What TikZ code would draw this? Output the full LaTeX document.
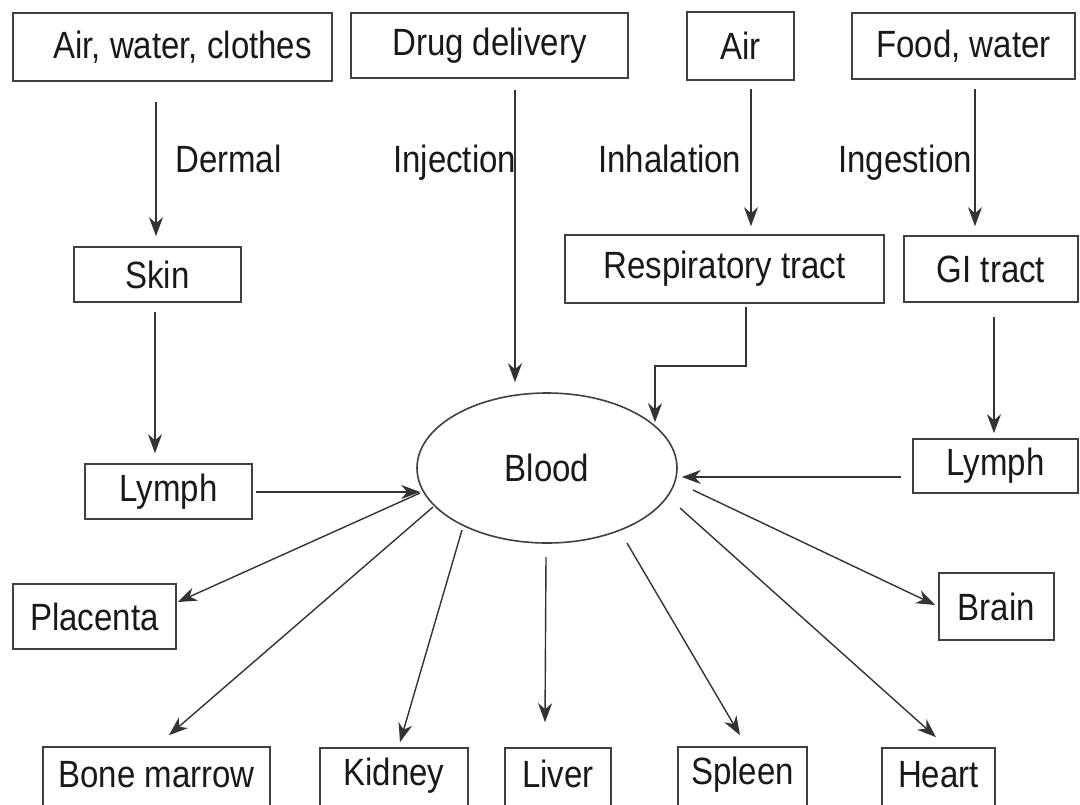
\documentclass[tikz,border=0pt]{standalone}
\usepackage{fontspec}
\setmainfont{Liberation Sans}
\usetikzlibrary{arrows.meta,calc,shapes.geometric}
\newcommand\talltxt[1]{\scalebox{1}[1.15]{#1}}
\begin{document}
\begin{tikzpicture}[x=1pt,y=-1pt,
  box/.style={draw=black!75, line width=1.6pt, rectangle, inner sep=0pt, font=\fontsize{33}{40}\selectfont, text=black!90},
  lbl/.style={inner sep=0pt, font=\fontsize{33}{40}\selectfont, text=black!90},
  arr/.style={draw=black!80, line width=1.4pt, -{Stealth[length=19pt,width=14pt,inset=6pt]}}]
\clip (0,0) rectangle (1080,804);
\fill[white] (0,0) rectangle (1080,804);
% sources
\node[box, minimum width=319pt, minimum height=68pt] (src1) at (172.5,47) {\hspace*{20pt}\talltxt{Air, water, clothes}};
\node[box, minimum width=277pt, minimum height=65pt] (src2) at (489.5,45.5) {\talltxt{Drug delivery}};
\node[box, minimum width=107pt, minimum height=68pt] (src3) at (740.5,46) {\talltxt{Air}};
\node[box, minimum width=223pt, minimum height=66pt] (src4) at (963.5,46) {\talltxt{Food, water}};
% route labels
\node[lbl, anchor=base west] (ldermal) at (175,172) {\talltxt{Dermal}};
\node[lbl, anchor=base west] (linj) at (393,172) {\talltxt{Injection}};
\node[lbl, anchor=base west] (linh) at (598,172) {\talltxt{Inhalation}};
\node[lbl, anchor=base west] (ling) at (838,172) {\talltxt{Ingestion}};
% intermediates
\node[box, minimum width=167pt, minimum height=55pt] (skin) at (157.5,274.5) {\talltxt{Skin}};
\node[box, minimum width=319pt, minimum height=68pt] (resp) at (724.5,269) {\raisebox{6pt}{\talltxt{Respiratory tract}}};
\node[box, minimum width=174pt, minimum height=66pt] (gi) at (991,269) {\talltxt{GI tract}};
\node[box, minimum width=167pt, minimum height=55pt] (lymphL) at (168.5,491.5) {\talltxt{Lymph}};
\node[box, minimum width=165pt, minimum height=54pt] (lymphR) at (995.5,466) {\raisebox{8pt}{\talltxt{Lymph}}};
% blood
\node[draw=black!75, line width=1.6pt, ellipse, inner sep=0pt, minimum width=260pt, minimum height=150pt, font=\fontsize{33}{40}\selectfont, text=black!90] (blood) at (547,468) {\talltxt{Blood}};
% organs
\node[box, minimum width=163pt, minimum height=65pt] (placenta) at (94.5,616.5) {\talltxt{Placenta}};
\node[box, minimum width=115pt, minimum height=67pt] (brain) at (996.5,606.5) {\talltxt{Brain}};
\node[box, minimum width=227pt, minimum height=66pt] (bone) at (156.5,780) {\raisebox{12pt}{\talltxt{Bone marrow}}};
\node[box, minimum width=148pt, minimum height=66pt] (kidney) at (394,781) {\raisebox{18pt}{\talltxt{Kidney}}};
\node[box, minimum width=106pt, minimum height=66pt] (liver) at (558,781) {\raisebox{14pt}{\talltxt{Liver}}};
\node[box, minimum width=129pt, minimum height=66pt] (spleen) at (742.5,780) {\raisebox{18pt}{\talltxt{Spleen}}};
\node[box, minimum width=113pt, minimum height=66pt] (heart) at (938.5,781) {\raisebox{14pt}{\talltxt{Heart}}};
% input arrows
\draw[arr] ($(src1.south)+(-16.5,20)$) -- ($(skin.north)+(-1.5,-10)$);
\draw[arr] ($(src2.south)+(25.5,11)$) -- ($(blood.north)+(-32,-10)$);
\draw[arr] ($(src3.south)+(10.5,8)$) -- ($(resp.north)+(26.5,-8)$);
\draw[arr] ($(src4.south)+(11.5,9)$) -- ($(gi.north)+(-16,-9)$);
\draw[arr] ($(skin.south)+(-2.5,9)$) -- ($(lymphL.north)+(-13.5,-10)$);
\draw[arr] ($(resp.south)+(21.5,3)$) -- ++(0,59) -| ($(blood.north)+(108,30)$);
\draw[arr] ($(gi.south)+(3,14)$) -- ($(lymphR.north)+(-1.5,-5)$);
\draw[arr] ($(lymphL.east)+(3,0.5)$) -- ($(blood.west)+(4,24)$);
\draw[arr] ($(lymphR.west)+(-11,11)$) -- ($(blood.east)+(4,9)$);
% output arrows
\draw[arr] ($(blood.center)+(-127,25)$) -- ($(placenta.east)+(1,-14.5)$);
\draw[arr] ($(blood.center)+(-114,39)$) -- ($(bone.north)+(12.5,-11)$);
\draw[arr] ($(blood.center)+(-85,62)$) -- ($(kidney.north)+(6,-5)$);
\draw[arr] ($(blood.center)+(-1,89)$) -- ($(liver.north)+(-13,-25)$);
\draw[arr] ($(blood.center)+(80,75)$) -- ($(spleen.north)+(-2.5,-11)$);
\draw[arr] ($(blood.center)+(133,40)$) -- ($(heart.north)+(-2.5,-10)$);
\draw[arr] ($(blood.center)+(146,22)$) -- ($(brain.west)+(-3,-1.5)$);
\end{tikzpicture}
\end{document}
